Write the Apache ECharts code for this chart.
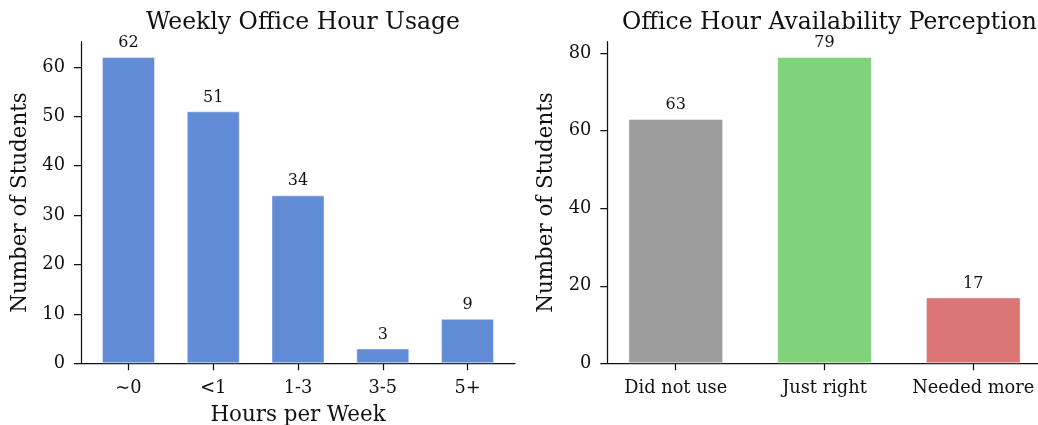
<!DOCTYPE html>
<html>
<head>
<meta charset="utf-8">
<script src="https://cdn.jsdelivr.net/npm/echarts@6/dist/echarts.min.js"></script>
<style>
	html, body { margin: 0; padding: 0; background: #fff; }
	#chart { width: 1038px; height: 425px; }
</style>
</head>
<body>
<div id="chart"></div>
<script>
var usageCategories = ['~0', '<1', '1-3', '3-5', '5+'];
var usageCounts = [62, 51, 34, 3, 9];
var usageTicks = [0, 10, 20, 30, 40, 50, 60];

var perceptionCategories = ['Did not use', 'Just right', 'Needed more'];
var perceptionCounts = [63, 79, 17];
var perceptionTicks = [0, 20, 40, 60, 80];

var usageColor = '#638cd7';
var perceptionColors = ['#9d9d9d', '#80d27b', '#dc7676'];

(function() {
	var font = 'DejaVu Serif';
	var ink = '#111';

	function indexes(arr) {
		return arr.map(function(_, i) { return i; });
	}

	function xAxisFor(gridIndex, cats, min, max, labelSize, name) {
		return {
			type: 'value', gridIndex: gridIndex, min: min, max: max,
			name: name || '', nameLocation: 'middle', nameGap: 42,
			nameTextStyle: { fontFamily: font, fontSize: 21.4, color: ink },
			axisLine: { show: true, onZero: false, lineStyle: { color: ink, width: 1.25 } },
			axisTick: { show: true, length: 7, customValues: indexes(cats), lineStyle: { color: ink, width: 1.25 } },
			axisLabel: {
				customValues: indexes(cats), margin: 16,
				fontFamily: font, fontSize: labelSize, color: ink,
				formatter: function(v) { return cats[Math.round(v)]; }
			},
			splitLine: { show: false }
		};
	}

	function yAxisFor(gridIndex, ticks, max) {
		return {
			type: 'value', gridIndex: gridIndex, min: 0, max: max,
			name: 'Number of Students', nameLocation: 'middle', nameGap: 50,
			nameTextStyle: { fontFamily: font, fontSize: 21.4, color: ink },
			axisLine: { show: true, onZero: false, lineStyle: { color: ink, width: 1.25 } },
			axisTick: { show: true, length: 7, customValues: ticks, lineStyle: { color: ink, width: 1.25 } },
			axisLabel: { customValues: ticks, margin: 16, fontFamily: font, fontSize: 17.8, color: ink },
			splitLine: { show: false }
		};
	}

	var barLabel = { show: true, position: 'top', distance: 6, fontFamily: font, fontSize: 16, color: ink };
	var barEdge = { borderColor: 'rgba(255,255,255,0.45)', borderWidth: 1 };

	var chart = echarts.init(document.getElementById('chart'), null, { renderer: 'canvas' });
	chart.setOption({
		animation: false,
		backgroundColor: '#fff',
		title: [
			{ text: 'Weekly Office Hour Usage', left: 298, top: 6, textAlign: 'center',
				textStyle: { fontFamily: font, fontSize: 23.5, fontWeight: 'normal', color: ink } },
			{ text: 'Office Hour Availability Perception', left: 824.5, top: 6, textAlign: 'center',
				textStyle: { fontFamily: font, fontSize: 23.5, fontWeight: 'normal', color: ink } }
		],
		grid: [
			{ left: 81, top: 41.7, width: 434, height: 321.6, outerBoundsMode: 'none' },
			{ left: 607.3, top: 41.7, width: 434.4, height: 321.6, outerBoundsMode: 'none' }
		],
		xAxis: [
			xAxisFor(0, usageCategories, -0.56, 4.56, 17.8, 'Hours per Week'),
			xAxisFor(1, perceptionCategories, -0.46, 2.46, 17.8, '')
		],
		yAxis: [
			yAxisFor(0, usageTicks, 65.1),
			yAxisFor(1, perceptionTicks, 82.95)
		],
		series: [
			{
				type: 'bar', xAxisIndex: 0, yAxisIndex: 0, barWidth: 53,
				itemStyle: Object.assign({ color: usageColor }, barEdge),
				label: barLabel,
				data: usageCounts.map(function(v, i) { return [i, v]; })
			},
			{
				type: 'bar', xAxisIndex: 1, yAxisIndex: 1, barWidth: 94.7,
				label: barLabel,
				data: perceptionCounts.map(function(v, i) {
					return { value: [i, v], itemStyle: Object.assign({ color: perceptionColors[i] }, barEdge) };
				})
			}
		]
	});
})();
</script>
</body>
</html>
